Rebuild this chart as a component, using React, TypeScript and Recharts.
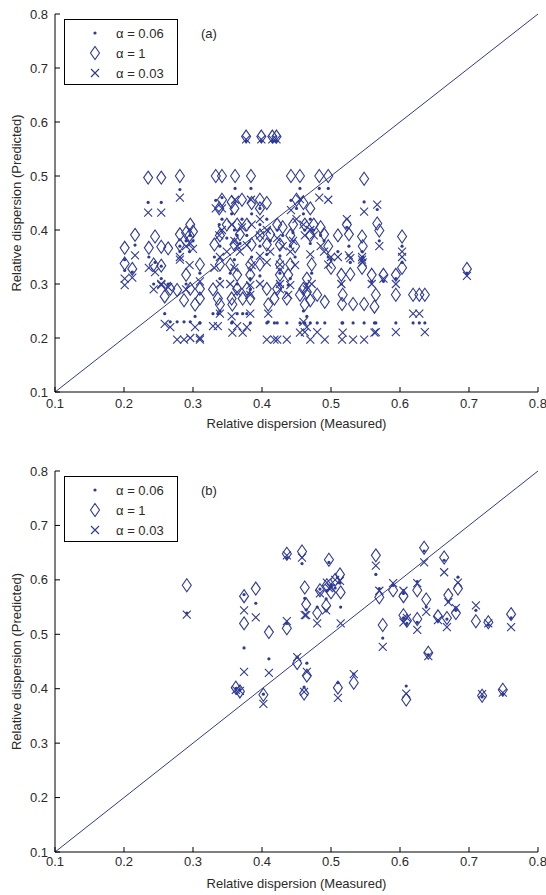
import React from 'react';
import { ScatterChart, Scatter, XAxis, YAxis, ReferenceLine } from 'recharts';

const BLUE = '#2f3a96';
const TEXT = '#2a2a2a';
const FONT = '"Liberation Sans", Arial, sans-serif';

const axisTicks = [0.1, 0.2, 0.3, 0.4, 0.5, 0.6, 0.7, 0.8];
const seriesNames = ['α = 0.06', 'α = 1', 'α = 0.03'];
const panelTags = ['(a)', '(b)'];
const xTitle = 'Relative dispersion (Measured)';
const yTitle = 'Relative dispersion (Predicted)';

// ---------- Panel (a) ----------
const aMeasured = [
  0.201, 0.201, 0.212, 0.216, 0.235, 0.254, 0.236, 0.245, 0.243, 0.254,
  0.254, 0.264, 0.267, 0.259, 0.277, 0.281, 0.281, 0.287, 0.29, 0.295,
  0.342, 0.356, 0.371, 0.385, 0.397, 0.407, 0.338, 0.36, 0.397, 0.45,
  0.46, 0.47, 0.333, 0.342, 0.361, 0.384, 0.442, 0.455, 0.483, 0.496,
  0.548, 0.377, 0.399, 0.415, 0.421, 0.296, 0.349, 0.364, 0.378, 0.422,
  0.43, 0.445, 0.462, 0.475, 0.485, 0.523, 0.567, 0.281, 0.3, 0.339,
  0.368, 0.397, 0.412, 0.441, 0.47, 0.49, 0.51, 0.526, 0.545, 0.57,
  0.603, 0.546, 0.331, 0.36, 0.385, 0.407, 0.426, 0.448, 0.496, 0.31,
  0.339, 0.354, 0.383, 0.397, 0.426, 0.441, 0.472, 0.465, 0.29, 0.364,
  0.383, 0.426, 0.438, 0.515, 0.559, 0.576, 0.594, 0.296, 0.31, 0.329,
  0.364, 0.378, 0.407, 0.422, 0.46, 0.31, 0.336, 0.356, 0.372, 0.383,
  0.418, 0.436, 0.303, 0.339, 0.357, 0.409, 0.462, 0.455, 0.465, 0.47,
  0.48, 0.491, 0.516, 0.517, 0.532, 0.548, 0.563, 0.565, 0.594, 0.619,
  0.628, 0.636, 0.697, 0.5, 0.528, 0.545, 0.603,
];
const aAlpha1 = [
  0.367, 0.338, 0.328, 0.391, 0.497, 0.497, 0.367, 0.388, 0.336, 0.369,
  0.334, 0.366, 0.291, 0.277, 0.289, 0.372, 0.5, 0.27, 0.395, 0.39,
  0.456, 0.452, 0.456, 0.45, 0.456, 0.45, 0.44, 0.44, 0.44, 0.456,
  0.45, 0.44, 0.5, 0.5, 0.5, 0.5, 0.5, 0.5, 0.5, 0.5,
  0.495, 0.573, 0.573, 0.573, 0.573, 0.41, 0.41, 0.41, 0.41, 0.41,
  0.405, 0.41, 0.41, 0.41, 0.405, 0.41, 0.412, 0.392, 0.397, 0.39,
  0.392, 0.39, 0.392, 0.39, 0.39, 0.392, 0.39, 0.392, 0.388, 0.399,
  0.388, 0.37, 0.373, 0.373, 0.373, 0.373, 0.373, 0.37, 0.37, 0.336,
  0.336, 0.336, 0.336, 0.336, 0.336, 0.336, 0.336, 0.31, 0.317, 0.317,
  0.317, 0.317, 0.317, 0.317, 0.317, 0.317, 0.317, 0.291, 0.291, 0.29,
  0.291, 0.291, 0.291, 0.291, 0.291, 0.273, 0.273, 0.273, 0.273, 0.273,
  0.273, 0.273, 0.262, 0.262, 0.262, 0.262, 0.262, 0.28, 0.285, 0.27,
  0.28, 0.267, 0.263, 0.28, 0.263, 0.263, 0.258, 0.28, 0.28, 0.28,
  0.28, 0.28, 0.328, 0.33, 0.318, 0.33, 0.33,
];
const aAlpha006 = [
  0.345, 0.325, 0.322, 0.372, 0.451, 0.451, 0.35, 0.34, 0.3, 0.333,
  0.31, 0.3, 0.23, 0.245, 0.23, 0.36, 0.475, 0.23, 0.38, 0.36,
  0.42, 0.43, 0.42, 0.43, 0.44, 0.42, 0.41, 0.4, 0.41, 0.44,
  0.43, 0.42, 0.455, 0.46, 0.477, 0.477, 0.455, 0.477, 0.477, 0.477,
  0.452, 0.565, 0.565, 0.565, 0.565, 0.39, 0.385, 0.39, 0.39, 0.4,
  0.39, 0.395, 0.4, 0.4, 0.39, 0.405, 0.438, 0.37, 0.38, 0.37,
  0.375, 0.37, 0.38, 0.37, 0.375, 0.38, 0.36, 0.37, 0.36, 0.38,
  0.37, 0.35, 0.35, 0.345, 0.35, 0.355, 0.352, 0.35, 0.35, 0.32,
  0.31, 0.32, 0.31, 0.315, 0.32, 0.31, 0.32, 0.3, 0.3, 0.3,
  0.29, 0.3, 0.298, 0.3, 0.305, 0.305, 0.31, 0.23, 0.228, 0.245,
  0.245, 0.245, 0.228, 0.228, 0.25, 0.228, 0.245, 0.228, 0.245, 0.228,
  0.228, 0.228, 0.24, 0.25, 0.23, 0.23, 0.228, 0.228, 0.24, 0.228,
  0.228, 0.228, 0.228, 0.228, 0.228, 0.228, 0.228, 0.228, 0.228, 0.228,
  0.228, 0.228, 0.32, 0.345, 0.34, 0.345, 0.34,
];
const aAlpha003 = [
  0.31, 0.298, 0.312, 0.353, 0.432, 0.432, 0.33, 0.322, 0.29, 0.3,
  0.298, 0.294, 0.22, 0.226, 0.197, 0.345, 0.46, 0.197, 0.37, 0.335,
  0.4, 0.41, 0.405, 0.41, 0.42, 0.4, 0.39, 0.38, 0.39, 0.42,
  0.41, 0.4, 0.44, 0.44, 0.456, 0.456, 0.437, 0.457, 0.46, 0.456,
  0.434, 0.568, 0.568, 0.568, 0.568, 0.375, 0.36, 0.37, 0.372, 0.385,
  0.37, 0.38, 0.39, 0.39, 0.37, 0.42, 0.447, 0.35, 0.365, 0.35,
  0.36, 0.352, 0.36, 0.36, 0.355, 0.36, 0.35, 0.353, 0.345, 0.37,
  0.36, 0.34, 0.33, 0.33, 0.335, 0.34, 0.336, 0.335, 0.336, 0.305,
  0.3, 0.3, 0.298, 0.3, 0.3, 0.298, 0.3, 0.29, 0.29, 0.285,
  0.28, 0.29, 0.28, 0.3, 0.3, 0.31, 0.3, 0.2, 0.197, 0.222,
  0.222, 0.22, 0.197, 0.197, 0.23, 0.2, 0.222, 0.24, 0.21, 0.245,
  0.197, 0.197, 0.22, 0.245, 0.21, 0.245, 0.211, 0.21, 0.22, 0.197,
  0.211, 0.197, 0.197, 0.21, 0.197, 0.197, 0.21, 0.211, 0.211, 0.245,
  0.245, 0.211, 0.315, 0.35, 0.348, 0.35, 0.35,
];

// ---------- Panel (b) ----------
const bMeasured = [
  0.291, 0.374, 0.391, 0.374, 0.41, 0.436, 0.362, 0.402, 0.451, 0.436,
  0.458, 0.497, 0.565, 0.635, 0.664, 0.513, 0.462, 0.464, 0.484, 0.494,
  0.5, 0.506, 0.514, 0.48, 0.493, 0.57, 0.575, 0.59, 0.605, 0.605,
  0.61, 0.625, 0.625, 0.638, 0.655, 0.668, 0.67, 0.681, 0.684, 0.71,
  0.728, 0.761, 0.641, 0.465, 0.461, 0.51, 0.533, 0.609, 0.719, 0.749,
  0.368,
];
const bAlpha1 = [
  0.59, 0.57, 0.584, 0.52, 0.504, 0.511, 0.402, 0.389, 0.447, 0.648,
  0.652, 0.637, 0.645, 0.659, 0.641, 0.61, 0.586, 0.555, 0.581, 0.59,
  0.577, 0.6, 0.577, 0.539, 0.553, 0.568, 0.517, 0.581, 0.57, 0.535,
  0.525, 0.581, 0.528, 0.564, 0.533, 0.53, 0.572, 0.539, 0.584, 0.524,
  0.522, 0.537, 0.466, 0.424, 0.391, 0.402, 0.411, 0.38, 0.387, 0.398,
  0.395,
];
const bAlpha006 = [
  0.539, 0.573, 0.557, 0.475, 0.455, 0.52, 0.4, 0.39, 0.458, 0.64,
  0.63, 0.632, 0.61, 0.653, 0.636, 0.594, 0.566, 0.545, 0.583, 0.58,
  0.59, 0.585, 0.55, 0.55, 0.565, 0.584, 0.493, 0.59, 0.575, 0.53,
  0.52, 0.597, 0.522, 0.55, 0.525, 0.528, 0.56, 0.544, 0.605, 0.544,
  0.517, 0.53, 0.462, 0.447, 0.403, 0.411, 0.427, 0.405, 0.385, 0.39,
  0.398,
];
const bAlpha003 = [
  0.536, 0.544, 0.531, 0.431, 0.429, 0.524, 0.398, 0.372, 0.458, 0.645,
  0.641, 0.585, 0.626, 0.632, 0.614, 0.598, 0.535, 0.535, 0.575, 0.595,
  0.585, 0.6, 0.52, 0.52, 0.544, 0.58, 0.477, 0.594, 0.58, 0.522,
  0.53, 0.594, 0.508, 0.541, 0.526, 0.513, 0.559, 0.548, 0.595, 0.553,
  0.52, 0.513, 0.46, 0.431, 0.394, 0.383, 0.427, 0.391, 0.39, 0.393,
  0.396,
];

const toPoints = (xs: number[], ys: number[]) => xs.map((x, i) => ({ x, y: ys[i] }));

const DotShape = (p: any) => <circle cx={p.cx} cy={p.cy} r={1.6} fill={BLUE} />;
const DiamondShape = (p: any) => (
  <path
    d={`M${p.cx},${p.cy - 6.5}L${p.cx + 4.5},${p.cy}L${p.cx},${p.cy + 6.5}L${p.cx - 4.5},${p.cy}Z`}
    fill="none"
    stroke={BLUE}
    strokeWidth={1.1}
  />
);
const CrossShape = (p: any) => (
  <path
    d={`M${p.cx - 4},${p.cy - 4}L${p.cx + 4},${p.cy + 4}M${p.cx - 4},${p.cy + 4}L${p.cx + 4},${p.cy - 4}`}
    stroke={BLUE}
    strokeWidth={1.1}
    fill="none"
  />
);

const fmt = (v: number) => v.toFixed(1);

function Legend({ top, tag }: { top: number; tag: string }) {
  const rows = [0, 20, 40];
  return (
    <svg
      width={546}
      height={100}
      style={{ position: 'absolute', left: 0, top, pointerEvents: 'none' }}
    >
      <rect x={64.5} y={0.5} width={113} height={65} fill="#fff" stroke="#000" strokeWidth={1} />
      <circle cx={95} cy={14 + rows[0]} r={1.6} fill={BLUE} />
      <path d={`M95,${14 + rows[1] - 6.5}L99.5,${14 + rows[1]}L95,${14 + rows[1] + 6.5}L90.5,${14 + rows[1]}Z`} fill="none" stroke={BLUE} strokeWidth={1.1} />
      <path d={`M91,${14 + rows[2] - 4}L99,${14 + rows[2] + 4}M91,${14 + rows[2] + 4}L99,${14 + rows[2] - 4}`} stroke={BLUE} strokeWidth={1.1} />
      {seriesNames.map((n, i) => (
        <text key={n} x={116} y={18.5 + rows[i]} fontSize={13} fontFamily={FONT} fill={TEXT}>
          {n}
        </text>
      ))}
      <text x={201} y={19} fontSize={13} fontFamily={FONT} fill={TEXT}>
        {tag}
      </text>
    </svg>
  );
}

function Panel(props: {
  height: number;
  marginTop: number;
  xAxisHeight: number;
  titleOffset: number;
  tickGap: number;
  measured: number[];
  s006: number[];
  s1: number[];
  s003: number[];
  tag: string;
  legendTop: number;
}) {
  const { height, marginTop, xAxisHeight, titleOffset, tickGap, measured, s006, s1, s003, tag, legendTop } = props;
  const tickStyle = { fill: TEXT, fontSize: 13, fontFamily: FONT };
  return (
    <div style={{ position: 'relative', width: 546, height }}>
      <ScatterChart width={546} height={height} margin={{ top: marginTop, right: 8, bottom: 0, left: 0 }}>
        <XAxis
          dataKey="x"
          type="number"
          domain={[0.1, 0.8]}
          ticks={axisTicks}
          allowDataOverflow
          tickFormatter={fmt}
          tickSize={-5}
          tickMargin={tickGap}
          height={xAxisHeight}
          stroke="#000"
          tick={tickStyle}
          label={{ value: xTitle, position: 'insideBottom', offset: titleOffset, fill: TEXT, fontSize: 13, fontFamily: FONT }}
        />
        <XAxis
          xAxisId="top"
          orientation="top"
          type="number"
          domain={[0.1, 0.8]}
          ticks={axisTicks}
          allowDataOverflow
          tick={false}
          tickSize={-5}
          height={0}
          stroke="#000"
        />
        <YAxis
          dataKey="y"
          type="number"
          domain={[0.1, 0.8]}
          ticks={axisTicks}
          allowDataOverflow
          tickFormatter={fmt}
          tickSize={-5}
          tickMargin={12}
          width={55}
          stroke="#000"
          tick={tickStyle}
          label={{ value: yTitle, angle: -90, position: 'insideLeft', offset: 16, fill: TEXT, fontSize: 13, fontFamily: FONT, style: { textAnchor: 'middle' } }}
        />
        <YAxis
          yAxisId="right"
          orientation="right"
          type="number"
          domain={[0.1, 0.8]}
          ticks={axisTicks}
          allowDataOverflow
          tick={false}
          tickSize={-5}
          width={0}
          stroke="#000"
        />
        <ReferenceLine
          segment={[{ x: 0.1, y: 0.1 }, { x: 0.8, y: 0.8 }]}
          stroke={BLUE}
          strokeWidth={1}
          ifOverflow="visible"
        />
        <Scatter name={seriesNames[0]} data={toPoints(measured, s006)} shape={DotShape} isAnimationActive={false} />
        <Scatter name={seriesNames[1]} data={toPoints(measured, s1)} shape={DiamondShape} isAnimationActive={false} />
        <Scatter name={seriesNames[2]} data={toPoints(measured, s003)} shape={CrossShape} isAnimationActive={false} />
      </ScatterChart>
      <Legend top={legendTop} tag={tag} />
    </div>
  );
}

export default function App() {
  return (
    <div style={{ position: 'absolute', left: 0, top: 0, width: 546, height: 895, background: '#fff' }}>
      <Panel
        height={440}
        marginTop={14}
        xAxisHeight={48}
        titleOffset={12}
        tickGap={12}
        measured={aMeasured}
        s006={aAlpha006}
        s1={aAlpha1}
        s003={aAlpha003}
        tag={panelTags[0]}
        legendTop={19}
      />
      <Panel
        height={455}
        marginTop={31}
        xAxisHeight={43}
        titleOffset={7}
        tickGap={10}
        measured={bMeasured}
        s006={bAlpha006}
        s1={bAlpha1}
        s003={bAlpha003}
        tag={panelTags[1]}
        legendTop={36}
      />
    </div>
  );
}
